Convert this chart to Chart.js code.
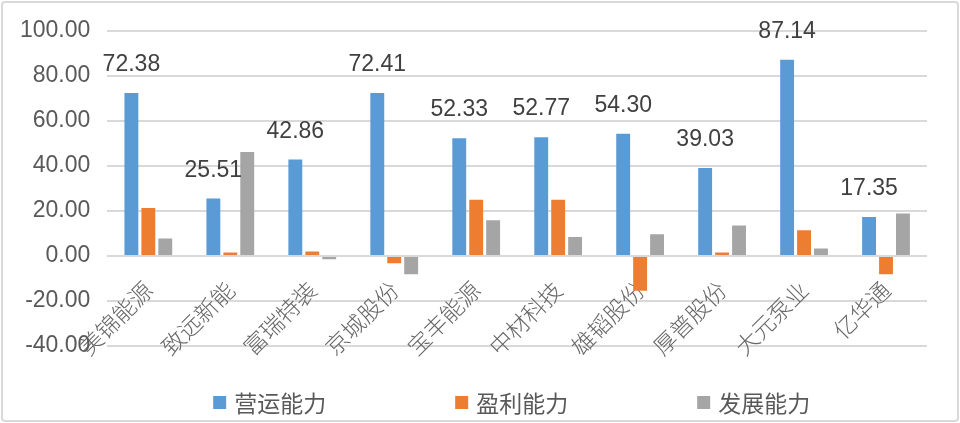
<!DOCTYPE html>
<html>
<head>
<meta charset="utf-8">
<script src="https://cdn.jsdelivr.net/npm/chart.js@4.4.1/dist/chart.umd.min.js"></script>
<style>
  html, body { margin: 0; padding: 0; background: #fff; }
  #wrap { position: relative; width: 960px; height: 423px; }
</style>
</head>
<body>
<div id="wrap"><canvas id="chart"></canvas></div>
<script>
// chart data
const companies = ["美锦能源", "致远新能", "富瑞特装", "京城股份", "宝丰能源", "中材科技", "雄韬股份", "厚普股份", "大元泵业", "亿华通"];
const operating = [72.38, 25.51, 42.86, 72.41, 52.33, 52.77, 54.30, 39.03, 87.14, 17.35];
const profit = [21.3, 1.5, 2.0, -3.3, 25.0, 25.0, -15.5, 1.5, 11.4, -8.1];
const growth = [7.8, 46.2, -1.5, -8.1, 15.9, 8.4, 9.6, 13.5, 3.3, 18.8];
const seriesNames = ["营运能力", "盈利能力", "发展能力"];
const colors = ["#5B9BD5", "#ED7D31", "#A5A5A5"];

const numFont = "'Liberation Sans', Arial, sans-serif";
const cjkFont = "'Noto Sans CJK SC', sans-serif";

// labels above the first series
const valueLabels = {
  id: "valueLabels",
  afterDatasetsDraw(chart) {
    const ctx = chart.ctx;
    const meta = chart.getDatasetMeta(0);
    ctx.save();
    ctx.font = "23px " + numFont;
    ctx.fillStyle = "#404040";
    ctx.textAlign = "center";
    ctx.textBaseline = "middle";
    meta.data.forEach((bar, i) => {
      ctx.fillText(operating[i].toFixed(2), bar.x, bar.y - 28);
    });
    ctx.restore();
  },
};

// bottom legend + frame
const frameLegend = {
  id: "frameLegend",
  beforeDraw(chart) {
    const ctx = chart.ctx;
    ctx.save();
    ctx.fillStyle = "#fff";
    ctx.fillRect(0, 0, chart.width, chart.height);
    ctx.strokeStyle = "#d9d9d9";
    ctx.lineWidth = 2;
    ctx.beginPath();
    ctx.roundRect(2, 2, chart.width - 4, chart.height - 4, 3);
    ctx.stroke();
    ctx.restore();
  },
  afterDraw(chart) {
    const ctx = chart.ctx;
    const area = chart.chartArea;
    const step = 242;
    const center = (area.left + area.right) / 2;
    const y = 403;
    ctx.save();
    ctx.font = "23px " + cjkFont;
    ctx.textBaseline = "middle";
    chart.data.datasets.forEach((ds, i) => {
      const x0 = center - 304 + i * step;
      ctx.fillStyle = ds.backgroundColor;
      ctx.fillRect(x0, y - 7, 13, 13);
      ctx.fillStyle = "#595959";
      ctx.fillText(ds.label, x0 + 21, y);
    });
    ctx.restore();
  },
};

new Chart(document.getElementById("chart"), {
  type: "bar",
  data: {
    labels: companies,
    datasets: [
      { label: seriesNames[0], data: operating, backgroundColor: colors[0] },
      { label: seriesNames[1], data: profit, backgroundColor: colors[1] },
      { label: seriesNames[2], data: growth, backgroundColor: colors[2] },
    ],
  },
  options: {
    responsive: true,
    maintainAspectRatio: false,
    animation: false,
    devicePixelRatio: 1,
    layout: { padding: { top: 30, right: 33, bottom: 77, left: 3 } },
    datasets: { bar: { categoryPercentage: 0.62, barPercentage: 0.82 } },
    plugins: {
      legend: { display: false },
      tooltip: { enabled: false },
    },
    scales: {
      x: {
        position: { y: 0 },
        grid: { display: false, drawTicks: false },
        border: { display: false },
        ticks: {
          color: "#666666",
          font: { family: cjkFont, size: 23, weight: 300 },
          minRotation: 45,
          maxRotation: 45,
          padding: 20,
        },
        afterFit(scale) {
          scale.paddingLeft = 0;
          scale.paddingRight = 0;
        },
      },
      y: {
        min: -40,
        max: 100,
        grid: { color: "#d9d9d9", lineWidth: 2, drawTicks: false },
        border: { display: false },
        ticks: {
          stepSize: 20,
          color: "#595959",
          font: { family: numFont, size: 23 },
          padding: 17,
          callback: (v) => v.toFixed(2),
        },
      },
    },
  },
  plugins: [valueLabels, frameLegend],
});
</script>
</body>
</html>
